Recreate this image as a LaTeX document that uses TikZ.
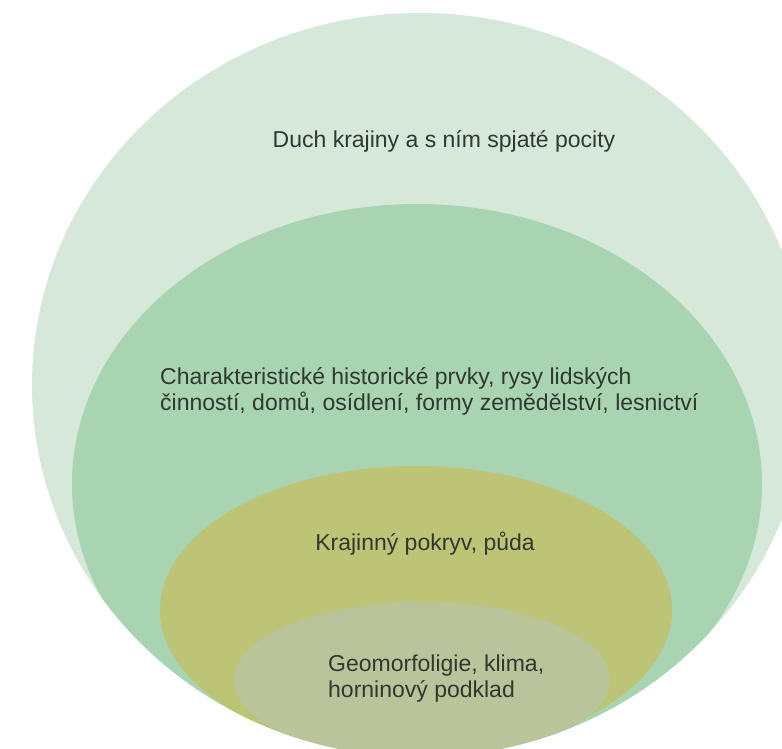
\documentclass[tikz,border=0pt]{standalone}
\usepackage{fontspec}
\setmainfont{Liberation Sans}
\definecolor{ringA}{HTML}{D6E8DA}
\definecolor{ringB}{HTML}{A9D4B2}
\definecolor{ringC}{HTML}{BDC476}
\definecolor{ringD}{HTML}{B9C49B}
\definecolor{txt}{HTML}{303830}
\tikzset{
  lbl/.style={text=txt, font=\fontsize{23}{26}\selectfont, inner sep=0pt, align=left},
}
\begin{document}
\begin{tikzpicture}[x=1pt,y=-1pt]
\useasboundingbox (0,0) rectangle (782,749);
\clip (0,0) rectangle (782,749);
\begin{scope}
\clip (420,385) ellipse [x radius=388, y radius=372];
\fill[ringA] (420,385) ellipse [x radius=388, y radius=372];
\fill[ringB] (417,484) ellipse [x radius=345, y radius=280];
\fill[ringC] (416,610) ellipse [x radius=256, y radius=144];
\fill[ringD] (422,680) ellipse [x radius=188, y radius=78];
\end{scope}
\node[lbl, anchor=base] (duch) at (444,148) {Duch krajiny a s ním spjaté pocity};
\node[lbl, anchor=base west] (hist) at (160,410) {Charakteristické historické prvky, rysy lidských\\činností, domů, osídlení, formy zemědělství, lesnictví};
\node[lbl, anchor=base] (pokryv) at (425,550) {Krajinný pokryv, půda};
\node[lbl, anchor=base west] (geo) at (328,697) {Geomorfoligie, klima,\\horninový podklad};
\end{tikzpicture}
\end{document}
